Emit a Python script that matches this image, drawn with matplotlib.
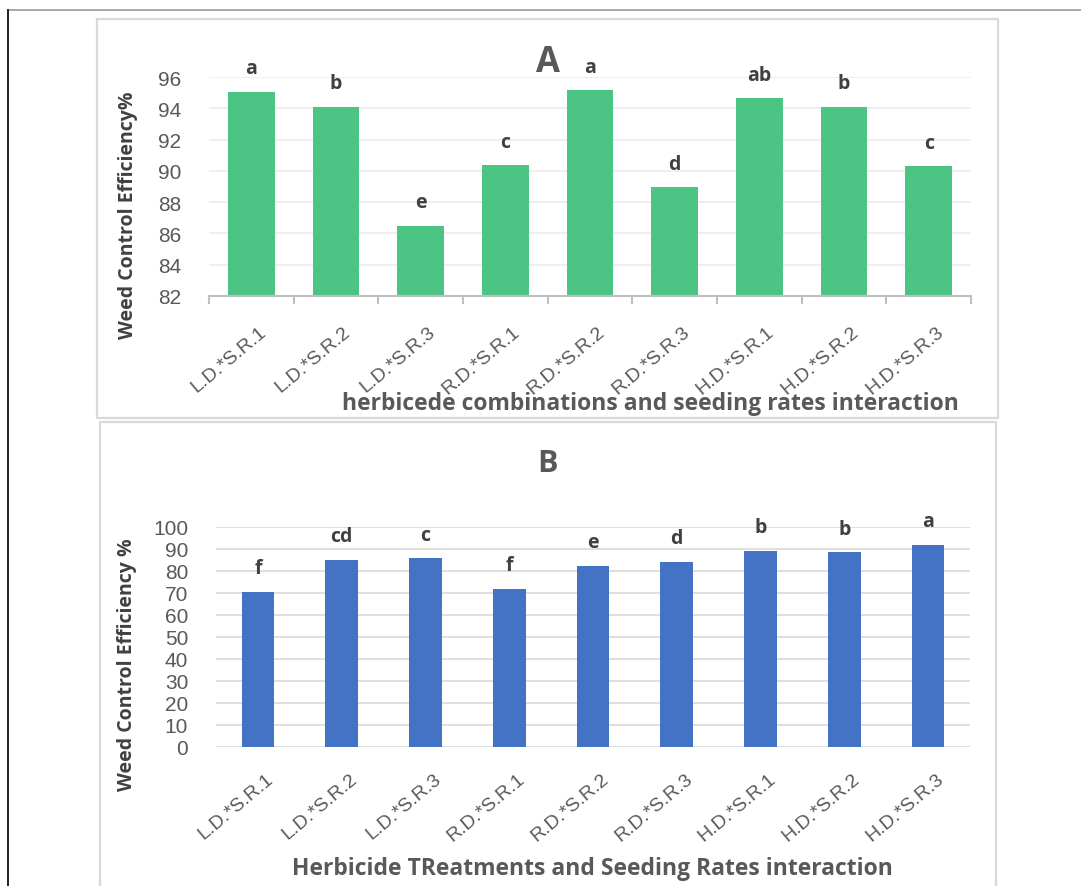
import matplotlib
matplotlib.use("Agg")
import matplotlib.pyplot as plt
from matplotlib.lines import Line2D
import matplotlib.transforms as mtransforms

W, H = 1081, 887

# data
categories = ["L.D.*S.R.1", "L.D.*S.R.2", "L.D.*S.R.3",
              "R.D.*S.R.1", "R.D.*S.R.2", "R.D.*S.R.3",
              "H.D.*S.R.1", "H.D.*S.R.2", "H.D.*S.R.3"]
wce_a = [95.05, 94.1, 86.5, 90.35, 95.15, 88.95, 94.65, 94.1, 90.3]
letters_a = ["a", "b", "e", "c", "a", "d", "ab", "b", "c"]
wce_b = [70.5, 85.0, 85.8, 72.0, 82.3, 84.1, 89.3, 88.5, 91.8]
letters_b = ["f", "cd", "c", "f", "e", "d", "b", "b", "a"]

GRAY = "#595959"
plt.rcParams["font.family"] = ["Open Sans", "DejaVu Sans"]

fig = plt.figure(figsize=(W / 100, H / 100), dpi=100)


def px_axes(x0, y0, x1, y1):
    # pixel box (top-left origin) -> figure axes
    return fig.add_axes([x0 / W, 1 - y1 / H, (x1 - x0) / W, (y1 - y0) / H])


def fig_line(xs, ys, color, lw):
    fig.add_artist(Line2D([x / W for x in xs], [1 - y / H for y in ys],
                          transform=fig.transFigure, color=color, lw=lw))


# outer frame and panel boxes
fig_line([8, W], [11, 11], "#9a9a9a", 1.2)
fig_line([8, 8], [11, H], "#222222", 1.4)
fig_line([97, 998, 998, 97, 97], [20, 20, 419, 419, 20], "#d9d9d9", 1.6)
fig_line([100, 100, 996, 996], [H, 423, 423, H], "#d9d9d9", 1.6)


def style_axes(ax, grid_color, dx, dy):
    for s in ax.spines.values():
        s.set_visible(False)
    ax.yaxis.grid(True, color=grid_color, lw=1.2)
    ax.set_axisbelow(True)
    ax.tick_params(axis="y", length=0, labelsize=15, labelcolor=GRAY, pad=20)
    ax.tick_params(axis="x", length=0, labelsize=14, labelcolor=GRAY)
    for lab in ax.get_yticklabels():
        lab.set_family(["Liberation Sans", "DejaVu Sans"])
    x = range(len(categories))
    ax.set_xticks(list(x))
    ax.set_xticklabels(categories, rotation=40, ha="right", va="top",
                       rotation_mode="anchor", family=["Liberation Sans", "DejaVu Sans"])
    offset = mtransforms.ScaledTranslation(dx / 100, -dy / 100, fig.dpi_scale_trans)
    for lab in ax.get_xticklabels():
        lab.set_transform(lab.get_transform() + offset)
    ax.set_xlim(-0.5, len(categories) - 0.5)


# Panel A
axA = px_axes(209, 78, 971, 297)
xA = list(range(len(categories)))
axA.bar(xA, wce_a, width=0.55, color="#4CC584", zorder=2)
axA.set_ylim(82, 96)
axA.set_yticks(range(82, 97, 2))
style_axes(axA, "#ececec", 7, 22)
axA.spines["bottom"].set_visible(True)
axA.spines["bottom"].set_color("#bfbfbf")
axA.spines["bottom"].set_linewidth(1.5)
axA.set_xticks([i - 0.5 for i in range(len(categories) + 1)], minor=True)
axA.tick_params(axis="x", which="minor", length=6, color="#bfbfbf", width=1.5)
for xi, v, t in zip(xA, wce_a, letters_a):
    axA.annotate(t, (xi, v), xytext=(0, 17), textcoords="offset points",
                 ha="center", va="center", fontsize=14, fontweight="bold",
                 color="#404040", clip_on=False)
fig.text(548 / W, 1 - 63 / H, "A", ha="center", va="center", fontsize=25,
         fontweight="bold", color=GRAY)
fig.text(128 / W, 1 - 215 / H, "Weed Control Efficiency%", rotation=90,
         ha="center", va="center", fontsize=14, fontweight="bold", color="#404040")
fig.text(650 / W, 1 - 404 / H, "herbicede combinations and seeding rates interaction",
         ha="center", va="center", fontsize=16.5, fontweight="bold", color=GRAY)

# Panel B
axB = px_axes(216, 528, 970, 748)
xB = list(range(len(categories)))
axB.bar(xB, wce_b, width=0.39, color="#4472C4", zorder=2)
axB.set_ylim(0, 100)
axB.set_yticks(range(0, 101, 10))
style_axes(axB, "#d9d9d9", 8, 18)
for xi, v, t in zip(xB, wce_b, letters_b):
    axB.annotate(t, (xi, v), xytext=(0, 17), textcoords="offset points",
                 ha="center", va="center", fontsize=14, fontweight="bold",
                 color="#404040", clip_on=False)
fig.text(548 / W, 1 - 464 / H, "B", ha="center", va="center", fontsize=22,
         fontweight="bold", color=GRAY)
fig.text(127 / W, 1 - 665 / H, "Weed Control Efficiency %", rotation=90,
         ha="center", va="center", fontsize=14, fontweight="bold", color="#404040")
fig.text(592 / W, 1 - 869 / H, "Herbicide TReatments and Seeding Rates interaction",
         ha="center", va="center", fontsize=16.5, fontweight="bold", color=GRAY)

fig.savefig("out.png", dpi=100)
